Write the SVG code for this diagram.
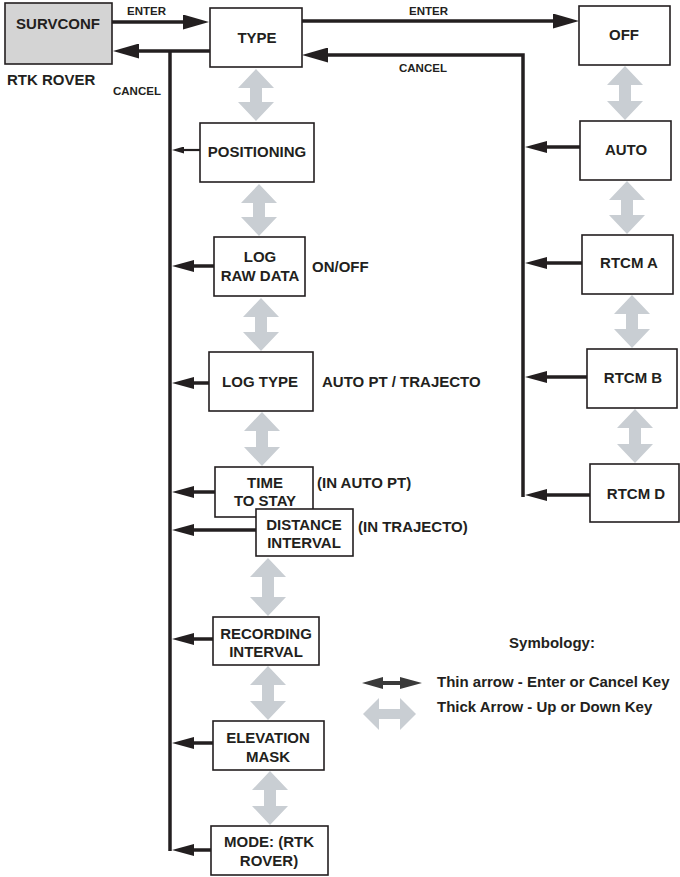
<svg xmlns="http://www.w3.org/2000/svg" width="680" height="877" viewBox="0 0 680 877">
<style>
.box{fill:#ffffff;stroke:#231f20;stroke-width:1.6}
.gbox{fill:#d4d4d4;stroke:#231f20;stroke-width:1.6}
.t{font-family:"Liberation Sans",Arial,sans-serif;font-weight:bold;font-size:15px;fill:#231f20;text-anchor:middle}
.s{font-family:"Liberation Sans",Arial,sans-serif;font-weight:bold;font-size:15px;fill:#231f20}
.k{font-family:"Liberation Sans",Arial,sans-serif;font-weight:bold;font-size:11.5px;fill:#231f20}
.ln{fill:none;stroke:#231f20;stroke-width:3.5}
.lt{fill:none;stroke:#231f20;stroke-width:2.2}
.ud{fill:#c9ced3}
</style>
<defs>
<marker id="big" markerUnits="userSpaceOnUse" markerWidth="26" markerHeight="15" viewBox="0 0 26 15" refX="0" refY="7.5" orient="auto"><path d="M0,0 L26,7.5 L0,15 z" fill="#231f20"/></marker>
<marker id="mid" markerUnits="userSpaceOnUse" markerWidth="22" markerHeight="12" viewBox="0 0 22 12" refX="0" refY="6" orient="auto"><path d="M0,0 L22,6 L0,12 z" fill="#231f20"/></marker>
<marker id="small" markerUnits="userSpaceOnUse" markerWidth="12" markerHeight="7" viewBox="0 0 12 7" refX="0" refY="3.5" orient="auto"><path d="M0,0 L12,3.5 L0,7 z" fill="#231f20"/></marker>
</defs>

<g id="connectors">
<line class="ln" x1="112" y1="22" x2="183" y2="22" marker-end="url(#big)"/>
<line class="ln" x1="210" y1="51" x2="139" y2="51" marker-end="url(#big)"/>
<line class="ln" x1="170" y1="51" x2="170" y2="851"/>
<line class="ln" x1="302" y1="21" x2="553" y2="21" marker-end="url(#big)"/>
<path class="ln" d="M523,497 V55 H328" marker-end="url(#big)" stroke-linejoin="miter"/>
<line class="lt" x1="200" y1="150" x2="184" y2="150" marker-end="url(#small)"/>
<line class="ln" x1="214" y1="266" x2="194" y2="266" marker-end="url(#mid)"/>
<line class="ln" x1="209" y1="383" x2="194" y2="383" marker-end="url(#mid)"/>
<line class="ln" x1="215" y1="492" x2="194" y2="492" marker-end="url(#mid)"/>
<line class="ln" x1="256" y1="530" x2="194" y2="530" marker-end="url(#mid)"/>
<line class="ln" x1="213" y1="639" x2="194" y2="639" marker-end="url(#mid)"/>
<line class="ln" x1="213" y1="743" x2="194" y2="743" marker-end="url(#mid)"/>
<line class="ln" x1="211" y1="850" x2="194" y2="850" marker-end="url(#mid)"/>
<line class="ln" x1="580" y1="147" x2="547" y2="147" marker-end="url(#mid)"/>
<line class="ln" x1="582" y1="263" x2="547" y2="263" marker-end="url(#mid)"/>
<line class="ln" x1="587" y1="377" x2="547" y2="377" marker-end="url(#mid)"/>
<line class="ln" x1="590" y1="495" x2="547" y2="495" marker-end="url(#mid)"/>
<text class="k" x="127" y="15" font-size="11">ENTER</text>
<text class="k" x="113" y="95">CANCEL</text>
<text class="k" x="409" y="15" font-size="11">ENTER</text>
<text class="k" x="399" y="72">CANCEL</text>
</g>

<g id="updown">
<path class="ud" d="M256,69 L274,88 L262,88 L262,102 L274,102 L256,121 L238,102 L250,102 L250,88 L238,88 z"/>
<path class="ud" d="M259,184 L277,203 L265,203 L265,217 L277,217 L259,236 L241,217 L253,217 L253,203 L241,203 z"/>
<path class="ud" d="M261,298 L279,317 L267,317 L267,332 L279,332 L261,351 L243,332 L255,332 L255,317 L243,317 z"/>
<path class="ud" d="M262,412 L280,431 L268,431 L268,447 L280,447 L262,466 L244,447 L256,447 L256,431 L244,431 z"/>
<path class="ud" d="M268,558 L286,577 L274,577 L274,597 L286,597 L268,616 L250,597 L262,597 L262,577 L250,577 z"/>
<path class="ud" d="M268,666 L286,685 L274,685 L274,701 L286,701 L268,720 L250,701 L262,701 L262,685 L250,685 z"/>
<path class="ud" d="M270,771 L288,790 L276,790 L276,806 L288,806 L270,825 L252,806 L264,806 L264,790 L252,790 z"/>
<path class="ud" d="M625,66 L643,85 L631,85 L631,101 L643,101 L625,120 L607,101 L619,101 L619,85 L607,85 z"/>
<path class="ud" d="M627,181 L645,200 L633,200 L633,215 L645,215 L627,234 L609,215 L621,215 L621,200 L609,200 z"/>
<path class="ud" d="M632,295 L650,314 L638,314 L638,329 L650,329 L632,348 L614,329 L626,329 L626,314 L614,314 z"/>
<path class="ud" d="M635,409 L653,428 L641,428 L641,444 L653,444 L635,463 L617,444 L629,444 L629,428 L617,428 z"/>
</g>

<g id="survconf"><rect class="gbox" x="5" y="3" width="107" height="61"/><text class="t" x="58" y="29">SURVCONF</text></g>
<g id="rtkrover-label"><text class="s" x="7" y="85">RTK ROVER</text></g>
<g id="type"><rect class="box" x="210" y="8" width="92" height="59"/><text class="t" x="257" y="43">TYPE</text></g>
<g id="off"><rect class="box" x="579" y="6" width="91" height="59"/><text class="t" x="624" y="40">OFF</text></g>
<g id="auto"><rect class="box" x="580" y="121" width="91" height="59"/><text class="t" x="626" y="155">AUTO</text></g>
<g id="rtcma"><rect class="box" x="582" y="235" width="91" height="59"/><text class="t" x="629" y="268">RTCM A</text></g>
<g id="rtcmb"><rect class="box" x="587" y="349" width="90" height="59"/><text class="t" x="633" y="383">RTCM B</text></g>
<g id="rtcmd"><rect class="box" x="590" y="464" width="89" height="58"/><text class="t" x="636" y="499">RTCM D</text></g>
<g id="positioning"><rect class="box" x="200" y="123" width="114" height="59"/><text class="t" x="257" y="157">POSITIONING</text></g>
<g id="lograwdata"><rect class="box" x="214" y="237" width="91" height="59"/><text class="t" x="260" y="262">LOG</text><text class="t" x="260" y="281">RAW DATA</text><text class="s" x="312" y="272">ON/OFF</text></g>
<g id="logtype"><rect class="box" x="209" y="352" width="104" height="59"/><text class="t" x="260" y="387">LOG TYPE</text><text class="s" x="322" y="387">AUTO PT / TRAJECTO</text></g>
<g id="timetostay"><rect class="box" x="215" y="467" width="98" height="50"/><text class="t" x="265" y="488">TIME</text><text class="t" x="265" y="506">TO STAY</text><text class="s" x="317" y="488">(IN AUTO PT)</text></g>
<g id="distanceinterval"><rect class="box" x="256" y="509" width="97" height="47"/><text class="t" x="304" y="530">DISTANCE</text><text class="t" x="304" y="548">INTERVAL</text><text class="s" x="358" y="532">(IN TRAJECTO)</text></g>
<g id="recordinginterval"><rect class="box" x="213" y="617" width="106" height="48"/><text class="t" x="266" y="639">RECORDING</text><text class="t" x="266" y="657">INTERVAL</text></g>
<g id="elevationmask"><rect class="box" x="213" y="721" width="111" height="49"/><text class="t" x="268" y="743">ELEVATION</text><text class="t" x="268" y="762">MASK</text></g>
<g id="mode"><rect class="box" x="211" y="826" width="117" height="49"/><text class="t" x="269" y="847">MODE: (RTK</text><text class="t" x="269" y="866">ROVER)</text></g>

<g id="symbology">
<text class="t" x="552" y="648">Symbology:</text>
<path d="M362,683 L383,677 L383,681 L400,681 L400,677 L422,683 L400,689 L400,685 L383,685 L383,689 z" fill="#3a3a3a"/>
<text class="s" x="437" y="687">Thin arrow - Enter or Cancel Key</text>
<path class="ud" d="M363,714 L379,698 L379,709 L400,709 L400,698 L416,714 L400,730 L400,719 L379,719 L379,730 z"/>
<text class="s" x="437" y="712">Thick Arrow - Up or Down Key</text>
</g>
</svg>
